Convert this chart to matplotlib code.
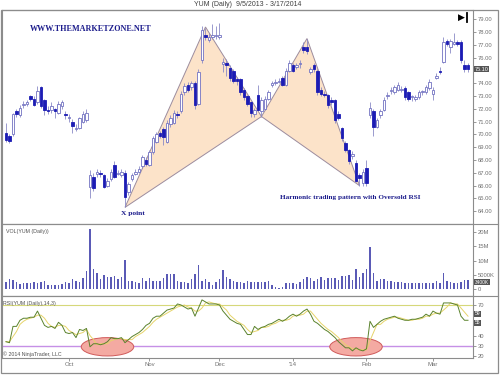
import numpy as np
import pandas as pd
import matplotlib
matplotlib.use('Agg')
import matplotlib.pyplot as plt
from matplotlib.patches import Polygon, Ellipse, Rectangle
from matplotlib.lines import Line2D

# YUM daily, 9/5/2013 - 3/17/2014
holidays = ['2013-11-28', '2013-12-25', '2014-01-01', '2014-01-20', '2014-02-17']
month_labels = ['Oct', 'Nov', 'Dec', "'14", 'Feb', 'Mar']

opens = [70.1, 69.9, 70.0, 71.8, 71.5, 72.3, 72.4, 73.0, 72.8, 72.5,
         73.7, 72.7, 71.9, 71.9, 72.0, 71.7, 72.2, 71.6, 71.3, 71.0,
         70.4, 70.5, 71.0, 71.1, 65.9, 66.7, 66.9, 67.0, 66.8, 66.0,
         66.5, 67.6, 66.9, 66.8, 67.0, 65.5, 66.5, 66.9, 67.1, 67.5,
         68.0, 67.6, 68.6, 69.4, 70.1, 70.4, 69.4, 70.8, 70.9, 71.6,
         71.8, 73.3, 73.9, 73.7, 74.0, 72.4, 75.8, 77.8, 77.4, 77.6,
         77.7, 77.6, 75.5, 75.6, 75.2, 75.0, 74.3, 74.3, 73.5, 73.0,
         72.5, 71.6, 73.1, 71.8, 72.0, 72.8, 73.9, 74.0, 74.1, 74.4,
         73.9, 75.0, 75.4, 75.3, 75.5, 76.8, 76.8, 74.9, 75.4, 75.0,
         73.5, 73.2, 73.1, 72.7, 72.7, 71.6, 70.5, 69.3, 68.8, 68.3,
         67.8, 66.8, 66.2, 67.4, 71.5, 71.8, 70.6, 71.5, 71.9, 73.0,
         73.4, 73.3, 73.5, 73.5, 73.6, 73.3, 72.9, 72.8, 72.9, 73.3,
         73.3, 73.6, 73.2, 74.4, 75.0, 75.7, 77.3, 76.8, 77.1, 77.2,
         77.2, 75.4, 75.4]
closes = [69.6, 69.5, 71.6, 71.6, 72.1, 72.4, 72.5, 72.8, 72.3, 73.4,
          72.2, 71.9, 71.8, 72.2, 71.8, 72.4, 72.5, 71.5, 71.4, 70.7,
          70.5, 71.3, 71.6, 71.7, 66.8, 65.8, 67.1, 66.9, 65.9, 66.4,
          67.1, 66.7, 67.0, 67.1, 65.1, 66.1, 66.8, 67.1, 67.3, 68.2,
          67.7, 68.6, 69.7, 70.0, 69.9, 69.8, 70.9, 71.3, 71.7, 71.5,
          73.2, 73.8, 73.5, 74.0, 72.3, 74.9, 78.2, 77.6, 77.6, 77.8,
          77.8, 77.8, 75.7, 75.4, 74.4, 74.2, 74.2, 73.3, 72.9, 72.4,
          71.7, 71.9, 71.9, 72.7, 72.8, 73.3, 74.0, 74.1, 74.2, 73.9,
          75.0, 75.6, 75.0, 75.4, 75.5, 76.6, 76.5, 75.1, 75.1, 73.3,
          73.2, 73.1, 72.3, 72.5, 71.1, 71.3, 69.7, 68.8, 67.9, 68.5,
          66.4, 66.6, 67.1, 66.2, 72.1, 70.6, 71.1, 71.8, 72.7, 73.1,
          73.5, 73.7, 73.9, 73.5, 72.9, 72.8, 72.9, 72.9, 73.3, 73.3,
          73.7, 74.1, 73.5, 74.6, 74.9, 77.2, 77.1, 77.3, 77.2, 77.1,
          75.8, 75.1, 75.1]
highs = [70.9, 70.0, 71.7, 72.0, 72.3, 72.6, 72.7, 73.1, 73.0, 73.8,
         73.8, 72.8, 72.2, 72.5, 72.1, 72.6, 72.7, 71.8, 71.6, 71.2,
         70.8, 71.4, 71.8, 72.0, 67.2, 67.0, 67.3, 67.2, 66.9, 66.6,
         67.3, 67.9, 67.2, 67.3, 67.2, 66.3, 67.0, 67.3, 67.5, 68.4,
         68.2, 68.8, 69.9, 70.2, 70.3, 70.6, 71.1, 71.5, 71.9, 71.8,
         73.4, 74.0, 74.1, 74.2, 74.2, 75.1, 78.5, 78.3, 77.9, 78.6,
         78.5, 78.7, 76.0, 75.9, 75.4, 75.1, 74.5, 74.4, 73.6, 73.1,
         72.6, 72.1, 73.9, 72.9, 73.0, 73.5, 74.2, 74.3, 74.4, 74.6,
         75.2, 75.8, 75.6, 75.6, 75.8, 77.2, 77.5, 75.3, 75.6, 75.1,
         73.7, 73.4, 73.2, 72.9, 72.8, 71.8, 70.6, 69.5, 68.9, 68.7,
         68.0, 67.0, 67.3, 68.0, 72.5, 72.0, 71.3, 72.0, 72.9, 73.3,
         73.7, 73.9, 74.1, 73.8, 73.8, 73.4, 73.1, 73.1, 73.5, 73.5,
         73.9, 74.3, 73.7, 74.8, 75.3, 77.6, 77.5, 77.5, 77.9, 77.4,
         77.4, 75.8, 75.6]
lows = [69.4, 69.3, 69.9, 71.4, 71.4, 72.1, 72.2, 72.6, 72.2, 72.4,
        72.1, 71.5, 71.6, 71.7, 71.3, 71.6, 72.0, 71.2, 71.0, 70.1,
        70.3, 70.4, 70.9, 71.0, 65.0, 65.6, 66.7, 66.7, 65.8, 65.9,
        66.4, 66.6, 66.8, 66.7, 64.3, 65.3, 66.4, 66.8, 67.0, 67.4,
        67.5, 67.5, 68.5, 69.3, 69.7, 69.2, 69.3, 70.6, 70.8, 71.3,
        71.7, 73.1, 73.3, 73.5, 72.0, 72.3, 75.6, 77.4, 77.2, 77.5,
        77.5, 77.5, 74.9, 74.6, 74.2, 74.0, 73.9, 73.1, 72.7, 72.2,
        71.4, 71.4, 71.8, 71.4, 71.9, 72.7, 73.7, 73.9, 74.0, 73.8,
        73.8, 74.9, 74.9, 75.1, 75.2, 76.4, 76.3, 74.7, 74.9, 73.1,
        73.0, 72.9, 72.1, 72.3, 70.9, 71.1, 69.5, 68.6, 67.7, 68.1,
        66.3, 66.0, 66.0, 66.0, 71.3, 69.9, 70.5, 71.3, 71.8, 72.8,
        73.2, 73.2, 73.4, 73.3, 72.7, 72.6, 72.6, 72.6, 72.8, 73.1,
        73.2, 73.5, 72.7, 74.3, 74.7, 75.6, 76.9, 76.4, 77.0, 76.9,
        75.6, 74.9, 74.9]
volume_m = [2.7, 3.7, 3.4, 2.6, 1.8, 2.2, 2.2, 2.4, 2.5, 2.4,
            2.5, 2.8, 1.45, 1.45, 1.45, 1.6, 1.9, 2.7, 2.2, 3.5,
            2.9, 2.7, 3.9, 6.5, 20.9, 7.0, 5.8, 3.5, 5.0, 4.2,
            4.2, 4.8, 3.5, 4.4, 10.2, 2.9, 2.9, 2.5, 2.2, 3.9,
            2.9, 3.9, 2.9, 2.9, 2.9, 3.9, 5.3, 5.3, 5.3, 2.9,
            2.7, 2.7, 2.2, 3.5, 5.3, 8.5, 2.9, 3.5, 2.7, 1.6,
            2.7, 3.5, 6.8, 4.2, 3.5, 2.9, 2.7, 2.7, 2.4, 2.9,
            2.7, 2.7, 2.7, 2.7, 2.7, 3.1, 1.6, 1.0, 0.6, 1.0,
            2.2, 2.2, 2.2, 1.8, 2.7, 3.5, 4.2, 3.9, 2.9, 3.5,
            4.4, 3.4, 3.9, 3.9, 3.9, 3.4, 4.7, 4.7, 5.0, 3.4,
            7.0, 4.2, 5.6, 7.0, 14.9, 5.8, 2.9, 3.5, 3.5, 2.9,
            2.9, 2.7, 2.7, 2.5, 2.2, 2.2, 2.2, 2.4, 2.2, 2.4,
            2.4, 2.4, 2.4, 2.9, 2.2, 5.6, 2.9, 2.7, 2.4, 2.4,
            2.7, 3.4, 3.4]
rsi = [34, 33, 49, 49, 55, 57, 57, 58, 58, 64,
       57, 50, 48, 49, 47, 53, 50, 43, 42, 43,
       38, 46, 45, 47, 29, 32, 32, 31, 32, 34,
       38, 37, 37, 38, 33, 36, 39, 41, 43, 46,
       50, 52, 57, 59, 59, 62, 65, 66, 67, 71,
       70, 68, 66, 67, 59, 67, 75, 73, 71, 71,
       71, 70, 64, 60, 56, 54, 52, 51, 46, 41,
       41, 49, 46, 48, 49, 51, 52, 54, 56, 54,
       56, 59, 61, 59, 61, 64, 66, 61, 54, 52,
       49, 46, 44, 41, 38, 34, 31, 28, 28, 25,
       28, 26, 25, 27, 54, 48, 51, 54, 56, 57,
       58, 59, 57, 56, 55, 55, 56, 56, 57, 58,
       61, 59, 64, 62, 61, 72, 72, 72, 71, 70,
       59, 55, 55]
rsi_avg = [34, 34, 39, 44, 51, 54, 56, 57, 58, 60,
           60, 57, 52, 49, 48, 50, 50, 49, 45, 43,
           41, 42, 43, 46, 40, 36, 31, 32, 32, 32,
           35, 36, 37, 37, 36, 36, 36, 39, 41, 43,
           46, 49, 53, 56, 58, 60, 62, 64, 66, 68,
           69, 70, 68, 67, 64, 64, 67, 72, 73, 72,
           71, 71, 68, 65, 60, 57, 54, 52, 50, 46,
           43, 44, 45, 48, 48, 49, 51, 52, 54, 55,
           55, 56, 59, 60, 60, 61, 64, 64, 60, 56,
           52, 49, 46, 44, 41, 38, 34, 31, 29, 27,
           27, 26, 26, 26, 35, 43, 51, 51, 54, 56,
           57, 58, 58, 57, 56, 55, 55, 56, 56, 57,
           59, 59, 61, 62, 62, 65, 68, 72, 71, 71,
           67, 63, 59]

# harmonic pattern points (bar index, price) and oversold marks (bar index, rsi)
pattern_bar = [34, 57, 73, 86, 101]
pattern_price = [64.3, 78.4, 71.4, 77.5, 66.0]
oversold_bar = [29, 100]
oversold_rsi = [29, 29]

W, H = 500, 375


def box(x0, y0, x1, y1):
    """pixel box -> figure fraction rect"""
    return [x0 / W, 1 - y1 / H, (x1 - x0) / W, (y1 - y0) / H]


def fy(y):
    return 1 - y / H


def tag(ax, val, text, fs, va='center'):
    """dark value box on the right axis"""
    ax.text(1.004, val, text, transform=ax.get_yaxis_transform(), fontsize=fs,
            color='white', va=va, ha='left', zorder=10,
            bbox=dict(boxstyle='square,pad=0.12', fc='#555555', ec='none'))


days = pd.bdate_range('2013-09-05', '2014-03-17')
days = days[~days.isin(pd.to_datetime(holidays))]
x = np.arange(len(days))
tick_pos = [i for i in range(1, len(days)) if days[i].month != days[i - 1].month]

plt.rcParams['font.family'] = ['Liberation Sans', 'DejaVu Sans']
fig = plt.figure(figsize=(5, 3.75), dpi=100)

ax_p = fig.add_axes(box(2, 10, 473, 224))
ax_v = fig.add_axes(box(2, 224, 473, 296), sharex=ax_p)
ax_r = fig.add_axes(box(2, 296, 473, 357.5), sharex=ax_p)

gray = '#8c8c8c'
for ax in (ax_p, ax_v, ax_r):
    ax.set_facecolor('white')
    for s in ax.spines.values():
        s.set_color(gray)
        s.set_linewidth(0.8)
    ax.yaxis.tick_right()
    ax.tick_params(axis='y', labelsize=4.2, colors='#707070', length=2,
                   width=0.5, pad=1.5)
    ax.tick_params(axis='x', bottom=False, labelbottom=False)
ax_p.set_xlim(-1.14, 133.43)

# --- price panel
o = np.array(opens)
c = np.array(closes)
up = c >= o
body_lo = np.minimum(o, c)
body_h = np.maximum(np.abs(c - o), 0.08)
ax_p.vlines(x, lows, highs, color='#8a8ac6', lw=0.6, zorder=3)
ax_p.bar(x[up], body_h[up], bottom=body_lo[up], width=0.62, color='white',
         edgecolor='#7272c2', lw=0.6, zorder=4)
ax_p.bar(x[~up], body_h[~up], bottom=body_lo[~up], width=0.62,
         color='#1c1cb4', edgecolor='#1c1cb4', lw=0.6, zorder=4)

pts = list(zip(pattern_bar, pattern_price))
for tri in (pts[0:3], pts[2:5]):
    ax_p.add_patch(Polygon(tri, closed=True, fc='#fce3c9', ec='#9c8c9e',
                           lw=0.7, zorder=1))

ax_p.set_ylim(63.0, 79.73)
price_ticks = np.arange(64, 80)
ax_p.set_yticks(price_ticks)
# the last-price box sits on top of the nearest tick label, as in NinjaTrader
ax_p.set_yticklabels(['' if abs(v - closes[-1]) < 0.5 else f'{v:.2f}'
                      for v in price_ticks])
tag(ax_p, closes[-1], f'{closes[-1]:.2f}', 4)

serif = ['Liberation Serif', 'DejaVu Serif']
navy = '#1c1c8c'
fig.text(30 / W, fy(29), 'WWW.THEMARKETZONE.NET', fontsize=5.9, fontweight='bold',
         family=serif, color=navy, ha='left', va='center')
fig.text(133 / W, fy(214), 'X point', fontsize=5.4, fontweight='bold',
         family=serif, color=navy, ha='center', va='center')
fig.text(350 / W, fy(198), 'Harmonic trading pattern with Oversold RSI', fontsize=5.2,
         fontweight='bold', family=serif, color=navy, ha='center', va='center')

# --- volume panel
ax_v.bar(x, volume_m, width=0.45, color='#5a5ab6', zorder=3)
ax_v.set_ylim(-2.26, 22.7)
ax_v.set_yticks([0, 5, 10, 15, 20])
ax_v.set_yticklabels(['0', '5000K', '10M', '15M', '20M'])
tag(ax_v, volume_m[-1], f'{volume_m[-1] * 1000:.0f}K', 3.5, va='top')
ax_v.text(0.008, 0.9, 'VOL(YUM (Daily))', transform=ax_v.transAxes, fontsize=3.8,
          color='#505050', va='center')

# --- RSI panel
ax_r.axhline(70, color='#d6d87a', lw=0.8, zorder=1)
ax_r.axhline(30, color='#c690e6', lw=1.0, zorder=1)
for bx, by in zip(oversold_bar, oversold_rsi):
    ax_r.add_patch(Ellipse((bx, by), 15, 18, fc='#f4aaa2', ec='#d05a5a',
                           lw=0.7, zorder=2))
ax_r.plot(x, rsi_avg, color='#e6d46a', lw=0.7, zorder=3)
ax_r.plot(x, rsi, color='#5a822c', lw=0.7, zorder=4)
ax_r.set_ylim(18.5, 78.8)
rsi_ticks = [20, 30, 40, 50, 60, 70]
ax_r.set_yticks(rsi_ticks)
ax_r.set_yticklabels([str(t) if abs(t - rsi[-1]) > 6 else '' for t in rsi_ticks])
tag(ax_r, rsi_avg[-1], f'{rsi_avg[-1]:.0f}', 3.6, va='bottom')
tag(ax_r, rsi[-1], f'{rsi[-1]:.0f}', 3.6, va='top')
ax_r.text(0.003, 0.88, 'RSI(YUM (Daily),14,3)', transform=ax_r.transAxes,
          fontsize=3.8, color='#505050', va='center')
ax_r.text(0.003, 0.06, '\u00a9 2014 NinjaTrader, LLC', transform=ax_r.transAxes,
          fontsize=3.8, color='#505050', va='center')
ax_r.tick_params(axis='x', bottom=True, labelbottom=True, labelsize=4.3,
                 colors='#707070', length=2, width=0.5, pad=1.5)
ax_r.set_xticks(tick_pos)
ax_r.set_xticklabels(month_labels)

# --- frame, separators, title, icon
fig.patches.append(Rectangle((1 / W, fy(373)), 497 / W, 363 / H, fill=False,
                             ec=gray, lw=0.9, transform=fig.transFigure))
for yy in (224, 296):
    fig.lines.append(Line2D([2 / W, 498 / W], [fy(yy), fy(yy)], color=gray, lw=0.8,
                            transform=fig.transFigure))
fig.text(248 / W, fy(5), 'YUM (Daily)  9/5/2013 - 3/17/2014', fontsize=5,
         color='#404040', ha='center', va='center')
fig.text(461 / W, fy(17), '\u25b6', fontsize=6.5, family=['DejaVu Sans'],
         color='black', ha='center', va='center')
fig.lines.append(Line2D([467 / W, 467 / W], [fy(12.5), fy(21.5)], color='black',
                        lw=1.3, transform=fig.transFigure))

fig.savefig('out.png', dpi=100)
